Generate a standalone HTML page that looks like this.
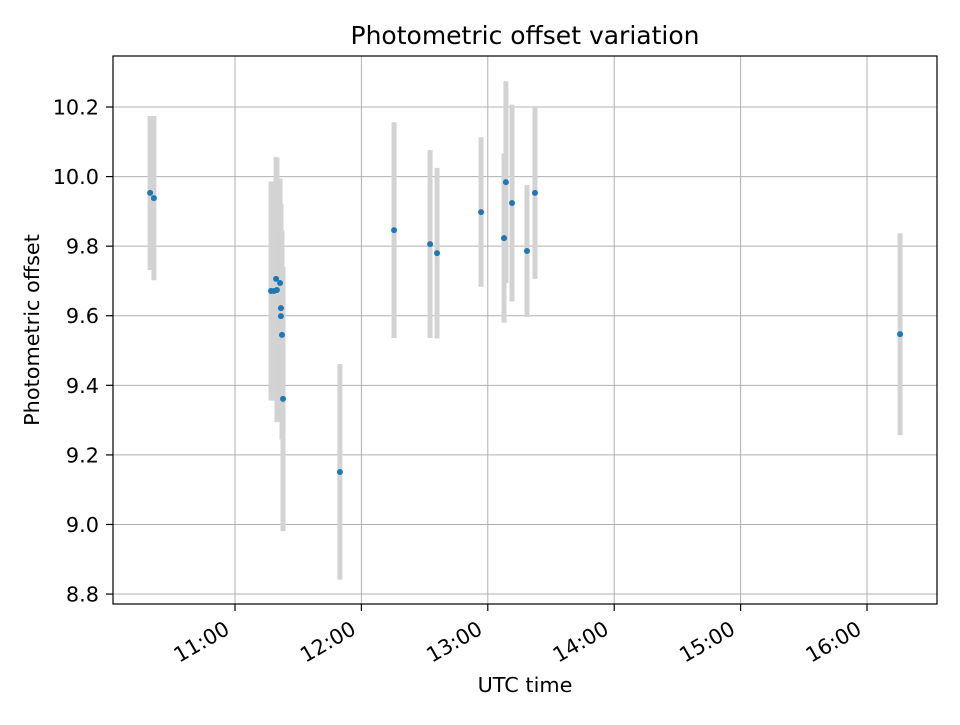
<!DOCTYPE html>
<html><head><meta charset="utf-8"><style>
body{margin:0;background:#fff}
svg text{font-family:"DejaVu Sans","Liberation Sans",sans-serif;fill:#000}
</style></head><body>
<svg id="chart" width="960" height="720" viewBox="0 0 960 720" xmlns="http://www.w3.org/2000/svg">
<rect width="960" height="720" fill="#fff"/>
<g id="grid"></g>
<g id="bars"></g>
<g id="pts"></g>
<rect x="113" y="56" width="824" height="548" fill="none" stroke="#000" stroke-width="1.2"/>
<g id="ticks"></g>
<text x="525" y="44" font-size="25" text-anchor="middle">Photometric offset variation</text>
<text x="525" y="692" font-size="20.8" text-anchor="middle">UTC time</text>
<text transform="translate(39,330) rotate(-90)" font-size="20.8" text-anchor="middle">Photometric offset</text>
</svg>
<script>
// time in minutes since midnight UTC
const times=[619.7,621.5,677.1,678.5,679.9,679.5,681.4,681.8,681.8,682.3,682.8,709.8,735.5,752.6,755.9,776.8,787.7,788.6,791.5,798.6,802.4,975.7];
const offsets=[9.953,9.938,9.671,9.671,9.674,9.706,9.694,9.622,9.599,9.545,9.361,9.151,9.846,9.806,9.780,9.898,9.823,9.984,9.924,9.786,9.953,9.547];
const errors=[0.221,0.236,0.315,0.30,0.38,0.35,0.30,0.30,0.30,0.30,0.38,0.31,0.31,0.27,0.245,0.215,0.243,0.29,0.283,0.19,0.247,0.29];
const yTicks=[8.8,9.0,9.2,9.4,9.6,9.8,10.0,10.2];
const xTickHours=[11,12,13,14,15,16];
const NS="http://www.w3.org/2000/svg";
function xs(m){return 235+(m-660)*126.4/60;}
function ys(v){return 107+(10.2-v)*347.9;}
function mk(t,a,p){const e=document.createElementNS(NS,t);for(const k in a)e.setAttribute(k,a[k]);p.appendChild(e);return e;}
const grid=document.getElementById('grid'),ticks=document.getElementById('ticks'),bars=document.getElementById('bars'),pts=document.getElementById('pts');
yTicks.forEach(v=>{const y=ys(v);
 const g=mk('line',{x1:113,x2:937,y1:y,y2:y,stroke:'#b0b0b0','stroke-width':1},grid);
 
 mk('line',{x1:106,x2:113,y1:y,y2:y,stroke:'#000','stroke-width':1.2},ticks);
 const t=mk('text',{x:99,y:y+7.5,'font-size':20.8,'text-anchor':'end'},ticks);t.textContent=v.toFixed(1);
 
});
xTickHours.forEach(h=>{const x=xs(h*60);
 const g=mk('line',{x1:x,x2:x,y1:56,y2:604,stroke:'#b0b0b0','stroke-width':1},grid);
 
 mk('line',{x1:x,x2:x,y1:604,y2:611,stroke:'#000','stroke-width':1.2},ticks);
 const t=mk('text',{transform:`translate(${x-4},${633}) rotate(-30)`,'font-size':20.8,'text-anchor':'end'},ticks);t.textContent=h+':00';
 
});
times.forEach((m,i)=>{const x=xs(m);
 const b=mk('line',{x1:x,x2:x,y1:ys(offsets[i]+errors[i]),y2:ys(offsets[i]-errors[i]),stroke:'#d3d3d3','stroke-width':5},bars);
 
});
times.forEach((m,i)=>{
 const c=mk('circle',{cx:xs(m),cy:ys(offsets[i]),r:3,fill:'#1f77b4'},pts);
 
});
</script>
</body></html>
